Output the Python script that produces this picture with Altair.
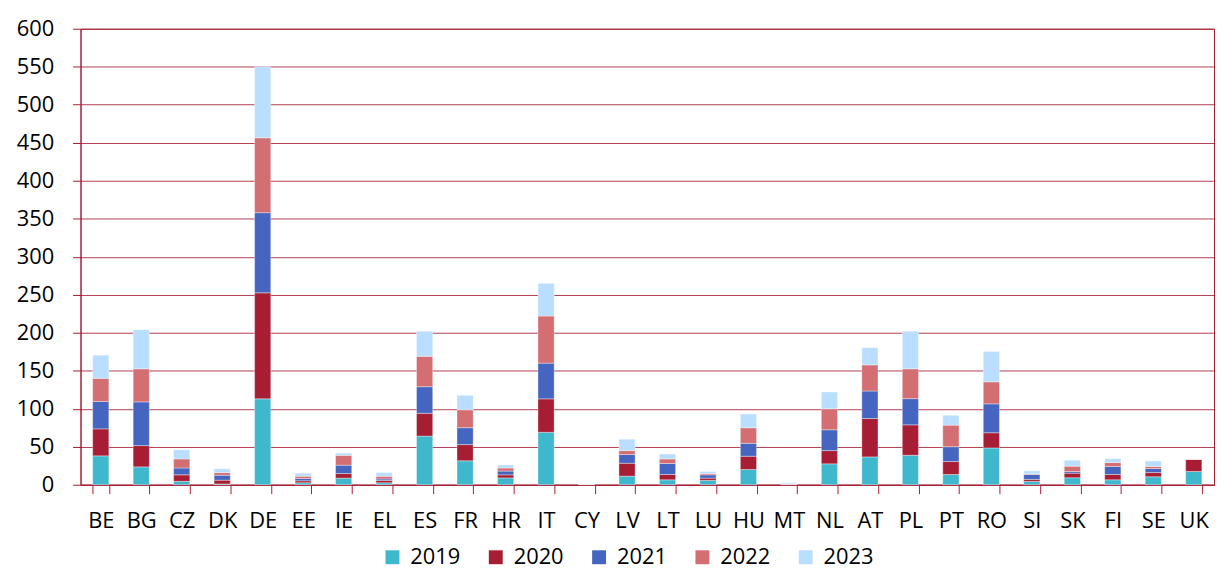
import altair as alt
import pandas as pd

countries = ["BE", "BG", "CZ", "DK", "DE", "EE", "IE", "EL", "ES", "FR", "HR", "IT", "CY", "LV",
             "LT", "LU", "HU", "MT", "NL", "AT", "PL", "PT", "RO", "SI", "SK", "FI", "SE", "UK"]
years = ["2019", "2020", "2021", "2022", "2023"]

v2019 = [38, 23.5, 4.5, 1, 113, 2.6, 8.7, 2.6, 64, 31.5, 9, 69, 0.5, 11.3,
         6.5, 5.7, 20, 0.3, 27.5, 36.6, 38.8, 13.5, 48.4, 4.4, 9.2, 6.5, 10.5, 17.4]
v2020 = [35.5, 28, 8.5, 5, 139.5, 2.6, 6, 3, 30, 21.3, 4, 44, 0.2, 17,
         7, 3, 17.5, 0.3, 17.4, 50.5, 40, 17, 20, 2.6, 6, 7, 5.5, 16.2]
v2021 = [36, 57.5, 9, 6.5, 105.5, 3, 11, 2, 35, 22.3, 5, 47, 0.1, 11.4,
         14.4, 4.3, 17, 0.3, 27.4, 36.2, 34.5, 19.5, 38, 6.5, 2.2, 10.5, 5.3, 0]
v2022 = [30.5, 43.5, 12, 3.5, 98.5, 3, 13, 3.5, 40, 23.5, 4, 62, 0.1, 5.2,
         6, 1.8, 20.5, 0.5, 27.7, 34.4, 39.2, 28.4, 29, 0.8, 7, 5.2, 2.7, 0]
v2023 = [30.5, 51.5, 12, 5, 93.5, 4, 3, 5, 33, 19, 4, 43, 0.5, 15,
         6.5, 2.6, 18, 1.2, 22, 22.7, 49.5, 13, 40, 4, 7.8, 5.2, 7.4, 0]

colors = ["#3FB8CE", "#A71D33", "#4565C0", "#D36E73", "#BADEFF"]

series = [v2019, v2020, v2021, v2022, v2023]
rows = []
for yi, (yr, vals) in enumerate(zip(years, series)):
    for c, v in zip(countries, vals):
        rows.append({"country": c, "year": yr, "order": yi, "value": v})
df = pd.DataFrame(rows)

red = "#A71D33"
font = "Open Sans"

chart = alt.Chart(df).mark_bar(
    stroke="white", strokeWidth=0.6, strokeOpacity=0.6
).encode(
    x=alt.X("country:N", sort=countries, title=None,
            scale=alt.Scale(paddingInner=0.6, paddingOuter=0.3),
            axis=alt.Axis(labelAngle=0, labelFont=font, labelFontSize=22, labelColor="black",
                          tickBand="extent", tickSize=9, tickColor=red, domainColor=red,
                          labelPadding=17, grid=False)),
    y=alt.Y("value:Q", title=None, stack="zero",
            scale=alt.Scale(domain=[0, 600], nice=False),
            axis=alt.Axis(values=list(range(0, 601, 50)), labelFont=font, labelFontSize=22,
                          labelColor="black", tickSize=8, tickColor=red, domainColor=red,
                          gridColor=red, gridOpacity=0.85, gridWidth=1, labelPadding=19)),
    color=alt.Color("year:N", sort=years,
                    scale=alt.Scale(domain=years, range=colors),
                    legend=alt.Legend(title=None, orient="none", direction="horizontal",
                                      legendX=303, legendY=521, symbolType="square",
                                      symbolSize=196, symbolStrokeWidth=0, labelFont=font,
                                      labelFontSize=22, labelColor="black", columnPadding=24,
                                      labelOffset=7, padding=0)),
    order=alt.Order("order:Q", sort="ascending"),
).properties(
    width=1141, height=459,
    autosize=alt.AutoSizeParams(type="none"),
    padding={"left": 73, "top": 19, "right": 2, "bottom": 92},
).configure_view(stroke=red, strokeWidth=1)

chart.save("out.html", embed_options={"renderer": "svg", "actions": False})
